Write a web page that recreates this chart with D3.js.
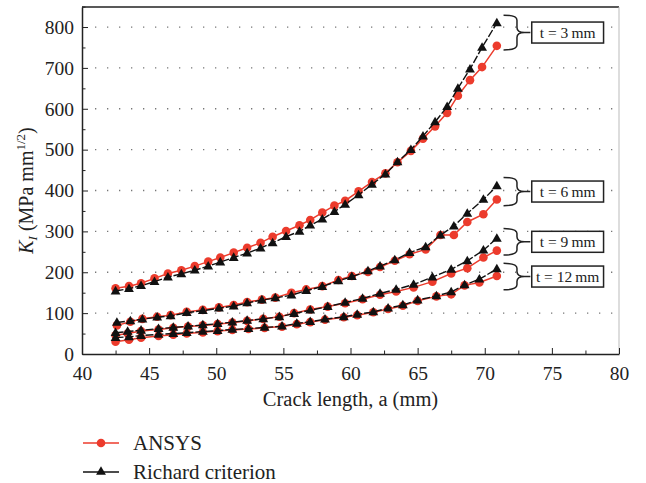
<!DOCTYPE html>
<html>
<head>
<meta charset="utf-8">
<script src="https://cdn.jsdelivr.net/npm/d3@7"></script>
<style>
  body { margin: 0; background: #fff; }
  text { font-family: "Liberation Serif", "DejaVu Serif", serif; fill: #222; }
</style>
</head>
<body>
<script>
const w = 646;
const h = 483;
const padding = { top: 7, right: 27, bottom: 129, left: 82 };

// crack length (mm) and K_I values per thickness
const a3 = [42.5, 43.5, 44.4, 45.4, 46.4, 47.4, 48.4, 49.4, 50.3, 51.3, 52.3, 53.3, 54.2, 55.2, 56.2, 57.0, 57.9, 58.8, 59.6, 60.6, 61.6, 62.6, 63.5, 64.5, 65.4, 66.3, 67.2, 68.0, 68.9, 69.8, 70.9];
const ansys3 = [161, 166, 173, 185, 197, 205, 215, 226, 236, 248, 260, 272, 287, 301, 315, 328, 346, 363, 375, 398, 421, 442, 469, 497, 527, 557, 590, 632, 670, 702, 754];
const richard3 = [154, 160, 167, 177, 188, 196, 205, 215, 225, 236, 247, 259, 272, 287, 300, 315, 330, 348, 366, 389, 415, 440, 470, 500, 533, 568, 605, 650, 697, 750, 810];

const a6 = [42.6, 43.6, 44.5, 45.6, 46.6, 47.8, 49.0, 50.2, 51.3, 52.3, 53.4, 54.4, 55.6, 56.7, 57.9, 59.1, 60.1, 61.3, 62.2, 63.3, 64.4, 65.6, 66.7, 67.7, 68.7, 69.9, 70.9];
const ansys6 = [70, 79, 86, 91, 95, 103, 108, 114, 120, 127, 133, 138, 150, 158, 166, 181, 191, 201, 213, 228, 244, 256, 291, 291, 323, 342, 378];
const richard6 = [77, 81, 85, 90, 93, 101, 106, 112, 117, 125, 132, 137, 144, 155, 165, 179, 189, 203, 215, 230, 248, 262, 291, 313, 344, 378, 411];

const a9 = [42.5, 43.4, 44.4, 45.7, 46.8, 47.9, 49.0, 50.1, 51.2, 52.3, 53.5, 54.7, 55.8, 57.0, 58.3, 59.6, 60.9, 62.2, 63.4, 64.7, 66.1, 67.5, 68.7, 69.9, 70.9];
const ansys9 = [46, 50, 56, 60, 64, 67, 70, 73, 77, 81, 86, 91, 100, 109, 116, 124, 134, 145, 153, 163, 177, 197, 210, 236, 253];
const richard9 = [52, 55, 58, 62, 65, 68, 71, 74, 78, 82, 86, 91, 99, 107, 116, 126, 136, 148, 158, 170, 188, 207, 228, 254, 283];

const a12 = [42.5, 43.5, 44.4, 45.7, 46.8, 47.8, 49.0, 50.1, 51.2, 52.4, 53.6, 54.9, 56.0, 57.0, 58.1, 59.5, 60.5, 61.7, 62.8, 63.9, 65.0, 66.4, 67.5, 68.5, 69.6, 70.9];
const ansys12 = [30, 35, 40, 44, 47, 50, 53, 56, 59, 61, 64, 67, 73, 78, 84, 90, 95, 102, 110, 118, 130, 141, 146, 168, 175, 191];
const richard12 = [40, 42, 45, 48, 50, 52, 55, 57, 60, 62, 65, 68, 75, 79, 85, 91, 97, 103, 112, 120, 132, 142, 152, 169, 183, 208];

const xTicks = [40, 45, 50, 55, 60, 65, 70, 75, 80];
const yTicks = [0, 100, 200, 300, 400, 500, 600, 700, 800];

// thickness labels with the K range each brace spans
const groupLabels = ['t = 3\u2009mm', 't = 6\u2009mm', 't = 9\u2009mm', 't = 12\u2009mm'];
const braceTop = [829, 432, 307, 222];
const braceBottom = [744, 363, 242, 157];

const red = '#ec3b2c';

const xScale = d3.scaleLinear().domain([40, 80]).range([padding.left, w - padding.right]);
const yScale = d3.scaleLinear().domain([0, 849]).range([h - padding.bottom, padding.top]);

const svg = d3.select('body').append('svg')
  .attr('width', w)
  .attr('height', h);

const x0 = padding.left, x1 = w - padding.right;
const y0 = h - padding.bottom, y1 = padding.top;

// dotted grid
svg.append('g').selectAll('line')
  .data(yTicks.filter(d => d > 0))
  .enter().append('line')
  .attr('x1', x0 + 13).attr('x2', x1)
  .attr('y1', d => yScale(d)).attr('y2', d => yScale(d))
  .attr('stroke', '#777')
  .attr('stroke-width', 1.3)
  .attr('stroke-dasharray', '1.3,10.7');

// frame: top dark, right light
svg.append('line').attr('x1', x0).attr('x2', x1).attr('y1', y1).attr('y2', y1)
  .attr('stroke', '#222').attr('stroke-width', 1.5);
svg.append('line').attr('x1', x1).attr('x2', x1).attr('y1', y1).attr('y2', y0)
  .attr('stroke', '#bbb').attr('stroke-width', 1);

// axes
svg.append('g')
  .attr('transform', `translate(0,${y0})`)
  .call(d3.axisBottom(xScale).tickValues(xTicks).tickSizeInner(-6).tickSizeOuter(0).tickPadding(12));
svg.append('g')
  .attr('transform', `translate(0,${y0})`)
  .call(d3.axisBottom(xScale).tickValues(xTicks.slice(0, -1).map(d => d + 2.5)).tickSize(-3.5).tickFormat(''))
  .select('.domain').remove();

svg.append('g')
  .attr('transform', `translate(${x0},0)`)
  .call(d3.axisLeft(yScale).tickValues(yTicks).tickSizeInner(-6).tickSizeOuter(0).tickPadding(8));
svg.append('g')
  .attr('transform', `translate(${x0},0)`)
  .call(d3.axisLeft(yScale).tickValues(yTicks.map(d => d + 50)).tickSize(-3.5).tickFormat(''))
  .select('.domain').remove();

svg.selectAll('.domain').attr('stroke', '#222').attr('stroke-width', 1.5);
svg.selectAll('.tick line').attr('stroke', '#222');
svg.selectAll('.tick text')
  .style('font-family', '"Liberation Serif", serif')
  .style('font-size', '19.5px')
  .attr('fill', '#222');

// series
const groups = [
  { a: a3, ansys: ansys3, richard: richard3 },
  { a: a6, ansys: ansys6, richard: richard6 },
  { a: a9, ansys: ansys9, richard: richard9 },
  { a: a12, ansys: ansys12, richard: richard12 }
];

const line = d3.line().x(d => xScale(d[0])).y(d => yScale(d[1]));
const tri = d3.symbol().type(d3.symbolTriangle).size(42);

groups.forEach((g) => {
  const pts = g.a.map((a, i) => [a, g.ansys[i]]);
  svg.append('path').datum(pts)
    .attr('d', line).attr('fill', 'none')
    .attr('stroke', red).attr('stroke-width', 1.5);
  svg.append('g').selectAll('circle')
    .data(pts).enter().append('circle')
    .attr('cx', d => xScale(d[0])).attr('cy', d => yScale(d[1]))
    .attr('r', 4.3).attr('fill', red);
});

groups.forEach((g) => {
  const pts = g.a.map((a, i) => [a, g.richard[i]]);
  svg.append('path').datum(pts)
    .attr('d', line).attr('fill', 'none')
    .attr('stroke', '#111').attr('stroke-width', 1.4)
    .attr('stroke-dasharray', '8,2');
  svg.append('g').selectAll('path')
    .data(pts).enter().append('path')
    .attr('d', tri)
    .attr('transform', d => `translate(${xScale(d[0])},${yScale(d[1]) + 0.5})`)
    .attr('fill', '#111');
});

// braces and boxed labels
const bx0 = xScale(71.4), bx1 = xScale(72.4), bTip = xScale(73.4);
const boxL = xScale(73.5), boxR = xScale(78.85);

groupLabels.forEach((label, i) => {
  const yt = yScale(braceTop[i]), yb = yScale(braceBottom[i]);
  const ym = (yt + yb) / 2;
  const r = 5;
  const p = d3.path();
  p.moveTo(bx0, yt);
  p.quadraticCurveTo(bx1, yt, bx1, yt + r);
  p.lineTo(bx1, ym - r);
  p.quadraticCurveTo(bx1, ym, bTip - 6, ym);
  p.lineTo(bTip, ym);
  p.moveTo(bTip - 6, ym);
  p.quadraticCurveTo(bx1, ym, bx1, ym + r);
  p.lineTo(bx1, yb - r);
  p.quadraticCurveTo(bx1, yb, bx0, yb);
  svg.append('path').attr('d', p.toString())
    .attr('fill', 'none').attr('stroke', '#222').attr('stroke-width', 1.5);

  svg.append('rect')
    .attr('x', boxL).attr('y', ym - 10.5)
    .attr('width', boxR - boxL).attr('height', 21)
    .attr('fill', '#fff').attr('stroke', '#222').attr('stroke-width', 1.5);
  svg.append('text')
    .attr('x', (boxL + boxR) / 2).attr('y', ym + 5.5)
    .attr('text-anchor', 'middle')
    .style('font-size', '15.5px')
    .text(label);
});

// axis titles
svg.append('text')
  .attr('x', (x0 + x1) / 2).attr('y', 406)
  .attr('text-anchor', 'middle')
  .style('font-size', '20.5px')
  .text('Crack length, a (mm)');

const yTitle = svg.append('text')
  .attr('transform', `translate(33,${(y0 + y1) / 2 + 10}) rotate(-90)`)
  .attr('text-anchor', 'middle')
  .style('font-size', '20px');
yTitle.append('tspan').style('font-style', 'italic').text('K');
yTitle.append('tspan').style('font-style', 'italic').style('font-size', '13px').attr('dy', 4).text('I');
yTitle.append('tspan').attr('dy', -4).text(' (MPa mm');
yTitle.append('tspan').style('font-size', '13px').attr('dy', -8).text('1/2');
yTitle.append('tspan').attr('dy', 8).text(')');

// legend
const legendItems = ['ANSYS', 'Richard criterion'];
legendItems.forEach((name, i) => {
  const ly = 443 + i * 29;
  const col = i === 0 ? red : '#111';
  svg.append('line').attr('x1', 83).attr('x2', 119).attr('y1', ly).attr('y2', ly)
    .attr('stroke', col).attr('stroke-width', 1.5);
  if (i === 0) {
    svg.append('circle').attr('cx', 101).attr('cy', ly).attr('r', 4.3).attr('fill', red);
  } else {
    svg.append('path').attr('d', tri).attr('transform', `translate(101,${ly})`).attr('fill', '#111');
  }
  svg.append('text').attr('x', 133).attr('y', ly + 7)
    .style('font-size', '21px')
    .text(name);
});
</script>
</body>
</html>
